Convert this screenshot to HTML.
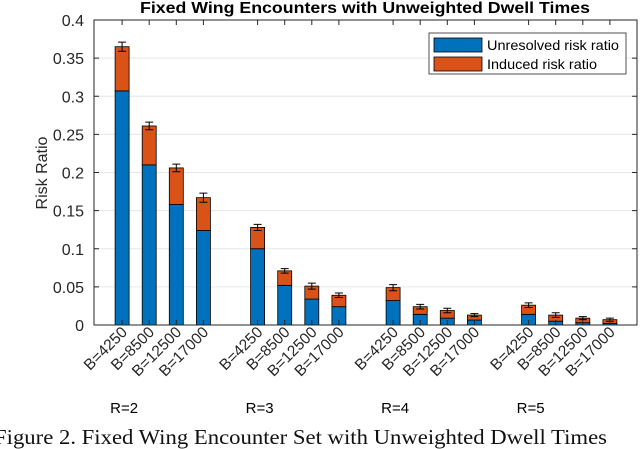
<!DOCTYPE html>
<html><head><meta charset="utf-8"><style>
body{margin:0;background:#fff;width:640px;height:449px;overflow:hidden}
svg{display:block}
</style></head><body>
<svg width="640" height="449" xmlns="http://www.w3.org/2000/svg">
<g id="grid"></g>
<g id="bars"></g>
<g id="axes"></g>
<text x="140" y="13" textLength="450" lengthAdjust="spacingAndGlyphs" font-family="Liberation Sans, sans-serif" font-weight="bold" font-size="16">Fixed Wing Encounters with Unweighted Dwell Times</text>
<text transform="translate(47,173) rotate(-90)" text-anchor="middle" font-family="Liberation Sans, sans-serif" font-size="16" fill="#262626">Risk Ratio</text>
<g>
<rect x="429" y="33" width="197" height="41" fill="#fff" stroke="#262626" stroke-width="0.8"/>
<rect x="434" y="38" width="48" height="14" fill="#0072BD" stroke="#000" stroke-width="0.8"/>
<text x="487" y="50" textLength="132" lengthAdjust="spacingAndGlyphs" font-family="Liberation Sans, sans-serif" font-size="14" fill="#000">Unresolved risk ratio</text>
<rect x="434" y="57" width="48" height="14" fill="#D95319" stroke="#000" stroke-width="0.8"/>
<text x="487" y="69" textLength="110" lengthAdjust="spacingAndGlyphs" font-family="Liberation Sans, sans-serif" font-size="14" fill="#000">Induced risk ratio</text>
</g>
<text x="-6" y="444" textLength="613" lengthAdjust="spacingAndGlyphs" font-family="Liberation Serif, serif" font-size="21" fill="#111">Figure 2. Fixed Wing Encounter Set with Unweighted Dwell Times</text>
</svg>
<script>
const categories=["B=4250","B=8500","B=12500","B=17000"];
const groups=["R=2","R=3","R=4","R=5"];
const unresolved=[0.307,0.210,0.158,0.124, 0.100,0.052,0.034,0.024, 0.032,0.014,0.009,0.0065, 0.014,0.005,0.003,0.002];
const induced=[0.058,0.051,0.048,0.043, 0.028,0.019,0.017,0.015, 0.017,0.010,0.010,0.0065, 0.012,0.008,0.006,0.005];
const errs=[0.006,0.005,0.005,0.006, 0.004,0.003,0.004,0.003, 0.004,0.003,0.003,0.002, 0.003,0.003,0.002,0.002];
const yTicks=[0,0.05,0.1,0.15,0.2,0.25,0.3,0.35,0.4];
const yTickLabels=["0","0.05","0.1","0.15","0.2","0.25","0.3","0.35","0.4"];
const NS="http://www.w3.org/2000/svg";
const L=94,R=637,T=20,B=325;
const xs=v=>95+v*27.1;
const ys=v=>B-(v/0.4)*(B-T);
function mk(tag,attrs,parent){const e=document.createElementNS(NS,tag);for(const k in attrs)e.setAttribute(k,attrs[k]);parent.appendChild(e);return e;}
const grid=document.getElementById('grid'),bars=document.getElementById('bars'),axes=document.getElementById('axes');
yTicks.forEach((t,i)=>{
 if(i>0&&i<yTicks.length-1){const g=mk('line',{x1:L,x2:R,y1:ys(t),y2:ys(t),stroke:'#e6e6e6','stroke-width':1},grid);
 
 }
 const tx=mk('text',{x:84,y:ys(t)+6,'text-anchor':'end','font-family':'Liberation Sans, sans-serif','font-size':'16',fill:'#262626'},axes);
 tx.textContent=yTickLabels[i];
 
 
 mk('line',{x1:L,x2:L+5,y1:ys(t),y2:ys(t),stroke:'#262626'},axes);
 mk('line',{x1:R,x2:R-5,y1:ys(t),y2:ys(t),stroke:'#262626'},axes);
});
const bw=14;
unresolved.forEach((u,i)=>{
 const g=Math.floor(i/4),c=i%4,pos=g*5+c+1,cx=xs(pos);
 const tot=u+induced[i];
 const b1=mk('rect',{x:cx-bw/2,y:ys(u),width:bw,height:ys(0)-ys(u),fill:'#0072BD',stroke:'#000','stroke-width':0.8},bars);
 
 
 const b2=mk('rect',{x:cx-bw/2,y:ys(tot),width:bw,height:ys(u)-ys(tot),fill:'#D95319',stroke:'#000','stroke-width':0.8},bars);
 
 
 const e=errs[i];
 mk('path',{d:`M${cx} ${ys(tot-e)}V${ys(tot+e)}M${cx-4} ${ys(tot-e)}h8M${cx-4} ${ys(tot+e)}h8`,stroke:'#000','stroke-width':1,fill:'none'},bars);
 mk('line',{x1:cx,x2:cx,y1:B,y2:B-5,stroke:'#262626'},axes);
 mk('line',{x1:cx,x2:cx,y1:T,y2:T+5,stroke:'#262626'},axes);
 const lb=mk('text',{transform:`translate(${cx+6},${333}) rotate(-45)`,'text-anchor':'end','font-family':'Liberation Sans, sans-serif','font-size':'15.5',fill:'#262626'},axes);
 lb.textContent=categories[c];
 
 
});
groups.forEach((gname,g)=>{
 const t=mk('text',{x:xs(g*5+1)+2,y:413,'text-anchor':'middle','font-family':'Liberation Sans, sans-serif','font-size':'15',fill:'#000'},axes);
 t.textContent=gname;
 
 
});
mk('rect',{x:L,y:T,width:R-L,height:B-T,fill:'none',stroke:'#262626','stroke-width':1},axes);
</script>
</body></html>
